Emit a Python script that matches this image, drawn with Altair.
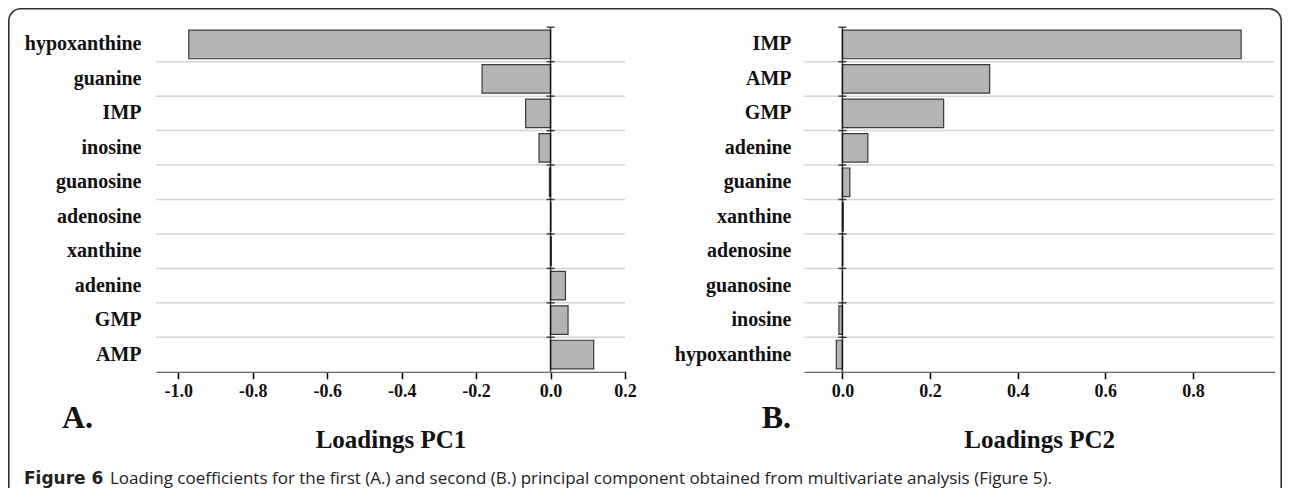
import altair as alt
import pandas as pd

# ---- data ----
pc1_names = ["hypoxanthine", "guanine", "IMP", "inosine", "guanosine",
             "adenosine", "xanthine", "adenine", "GMP", "AMP"]
pc1_vals = [-0.972, -0.184, -0.067, -0.031, -0.003, 0.001, 0.002, 0.040, 0.047, 0.116]

pc2_names = ["IMP", "AMP", "GMP", "adenine", "guanine", "xanthine",
             "adenosine", "guanosine", "inosine", "hypoxanthine"]
pc2_vals = [0.910, 0.336, 0.231, 0.058, 0.017, 0.002, 0.001, 0.000, -0.008, -0.014]

pc1_ticks = [-1.0, -0.8, -0.6, -0.4, -0.2, 0.0, 0.2]
pc2_ticks = [0.0, 0.2, 0.4, 0.6, 0.8]

caption_bold = "Figure 6"
caption_rest = ("Loading coefficients for the first (A.) and second (B.) principal "
                "component obtained from multivariate analysis (Figure 5).")

SERIF = "Liberation Serif"
SANS = "Open Sans"
W, H = 1274, 480
BAND_RANGE = [19.25, 363.75]
STEP = (BAND_RANGE[1] - BAND_RANGE[0]) / 10
X_AXIS_OFFSET = -(H - BAND_RANGE[1])
LABEL_EXPR = "(datum.value < 0 ? '-' : '') + format(abs(datum.value), '.1f')"


def panel(names, vals, domain, xrange, ticks, title, label_offset):
    df = pd.DataFrame({"compound": names, "loading": vals})
    yscale = alt.Scale(domain=names, range=BAND_RANGE, paddingInner=0, paddingOuter=0)
    xscale = alt.Scale(domain=domain, range=xrange, nice=False, zero=False)
    base = alt.Chart(df)

    grid = base.mark_rule(color="#d4d4d4", strokeWidth=1.5).encode(
        x=alt.X(datum=domain[0], scale=xscale),
        x2=alt.datum(domain[1]),
        y=alt.Y("compound:N", bandPosition=1, scale=yscale),
    )
    bars = base.mark_bar(height=alt.RelativeBandSize(band=0.83), fill="#b4b4b4",
                         stroke="#3a3a3a", strokeWidth=1.2).encode(
        x=alt.X("loading:Q", scale=xscale,
                axis=alt.Axis(values=ticks, labelExpr=LABEL_EXPR, orient="bottom",
                              offset=X_AXIS_OFFSET, grid=False,
                              domainColor="black", domainWidth=1.5,
                              tickColor="black", tickWidth=1.5, tickSize=7,
                              labelFont=SERIF, labelFontWeight="bold", labelFontSize=18,
                              labelColor="#111111", labelPadding=4, labelFlush=False,
                              title=title, titleFont=SERIF, titleFontWeight="bold",
                              titleFontSize=25, titleColor="#111111", titlePadding=27)),
        y=alt.Y("compound:N", scale=yscale,
                axis=alt.Axis(orient="left", offset=label_offset, domain=False,
                              ticks=False, tickSize=0, labelPadding=0, grid=False,
                              labelFont=SERIF, labelFontWeight="bold", labelFontSize=20,
                              labelColor="#111111", labelLimit=0, title=None)),
    )
    zero = base.mark_tick(orient="vertical", size=STEP, thickness=1.6, color="black").encode(
        x=alt.X(datum=0, scale=xscale),
        y=alt.Y("compound:N", scale=yscale),
    )
    caps = base.mark_tick(orient="horizontal", size=8, thickness=1.5, color="black").encode(
        x=alt.X(datum=0, scale=xscale),
        y=alt.Y("compound:N", bandPosition=0, scale=yscale),
    )
    return alt.layer(grid, bars, zero, caps)


panel_a = panel(pc1_names, pc1_vals, [-1.06, 0.2], [148, 617], pc1_ticks,
                "Loadings PC1", -133)
panel_b = panel(pc2_names, pc2_vals, [-0.087, 0.985], [796.3, 1266], pc2_ticks,
                "Loadings PC2", -783)

frame = alt.Chart(pd.DataFrame({"f": [1]})).mark_rect(
    clip=True, fillOpacity=0, stroke="#333333", strokeWidth=1.6, cornerRadius=12
).encode(x=alt.value(0.8), x2=alt.value(W - 0.8), y=alt.value(0.8), y2=alt.value(H + 40))

ann_a = alt.Chart(pd.DataFrame({"t": ["A."]})).mark_text(
    font=SERIF, fontWeight="bold", fontSize=32, align="left", baseline="alphabetic",
    color="#111111").encode(x=alt.value(54), y=alt.value(420), text="t:N")
ann_b = alt.Chart(pd.DataFrame({"t": ["B."]})).mark_text(
    font=SERIF, fontWeight="bold", fontSize=32, align="right", baseline="alphabetic",
    color="#111111").encode(x=alt.value(783), y=alt.value(420), text="t:N")
cap1 = alt.Chart(pd.DataFrame({"t": [caption_bold]})).mark_text(
    font="DejaVu Sans", fontWeight="bold", fontSize=17, align="left", baseline="alphabetic",
    color="#222222").encode(x=alt.value(16), y=alt.value(476), text="t:N")
cap2 = alt.Chart(pd.DataFrame({"t": [caption_rest]})).mark_text(
    font=SANS, fontSize=17, align="left", baseline="alphabetic",
    color="#222222").encode(x=alt.value(102), y=alt.value(476), text="t:N")

chart = alt.layer(frame, panel_a, panel_b, ann_a, ann_b, cap1, cap2).resolve_scale(
    x="independent", y="independent"
).properties(
    width=W, height=H, padding=0, autosize=alt.AutoSizeParams(type="none")
).configure_view(strokeWidth=0)

chart.save("out.html", embed_options={"renderer": "svg", "actions": False})
